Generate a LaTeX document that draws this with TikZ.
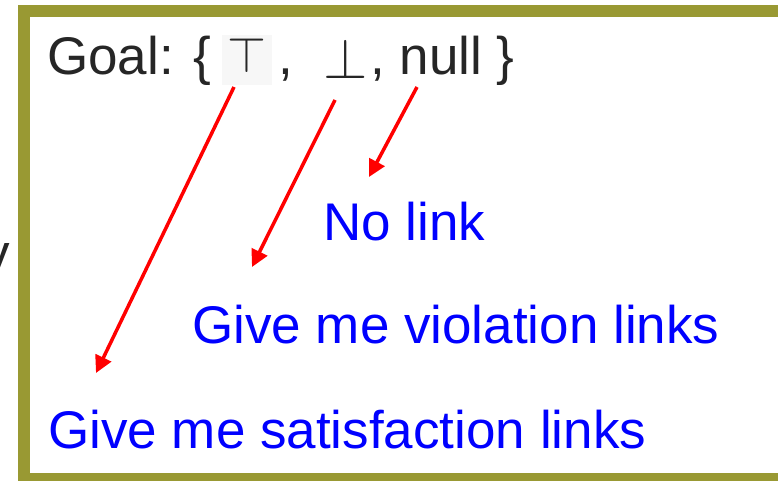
\documentclass[tikz,border=0pt]{standalone}
\usepackage{graphicx}
\usepackage{fontspec}
\setmainfont{Liberation Sans}
\usetikzlibrary{arrows.meta}
\definecolor{frameolive}{RGB}{153,153,51}
\definecolor{goalgray}{RGB}{38,38,38}

\begin{document}
\begin{tikzpicture}[x=1pt,y=-1pt,
  txt/.style={anchor=base west,inner sep=0pt,font=\fontsize{53}{60}\selectfont},
  goal/.style={txt,text=goalgray},
  hint/.style={txt,text=blue},
  sym/.style={anchor=base,inner sep=0pt,text=goalgray},
  link/.style={red,line width=3.5pt,-{Triangle[length=17pt,width=17pt]}}]
\useasboundingbox (0,0) rectangle (778,481);
\clip (0,0) rectangle (778,481);
\draw[frameolive,line width=12pt] (24,11) rectangle (800,479);
\node[goal] (cut) at (-17,271) {y};
% goal line
\fill[black!3] (222,35) rectangle (272,85);
\node[goal] (goal) at (47,75) {Goal: \{};
\node[sym] (tee) at (247,73) {\scalebox{5}{$\top$}};
\node[goal] (c1) at (278,75) {,};
\node[sym] (bot) at (346,79) {\scalebox{5.7}{$\bot$}};
\node[goal] (rest) at (370,75) {, null \}};
% answers
\node[hint] (nolink) at (323,240) {No link};
\node[hint] (viol) at (192,343) {Give me violation links};
\node[hint] (sat) at (48,448) {Give me satisfaction links};
\coordinate (s1) at (234,87);  \coordinate (e1) at (96,373);
\coordinate (s2) at (335,100); \coordinate (e2) at (252,267);
\coordinate (s3) at (417,87);  \coordinate (e3) at (369,177);
\draw[link] (s1) -- (e1);
\draw[link] (s2) -- (e2);
\draw[link] (s3) -- (e3);
\end{tikzpicture}
\end{document}
